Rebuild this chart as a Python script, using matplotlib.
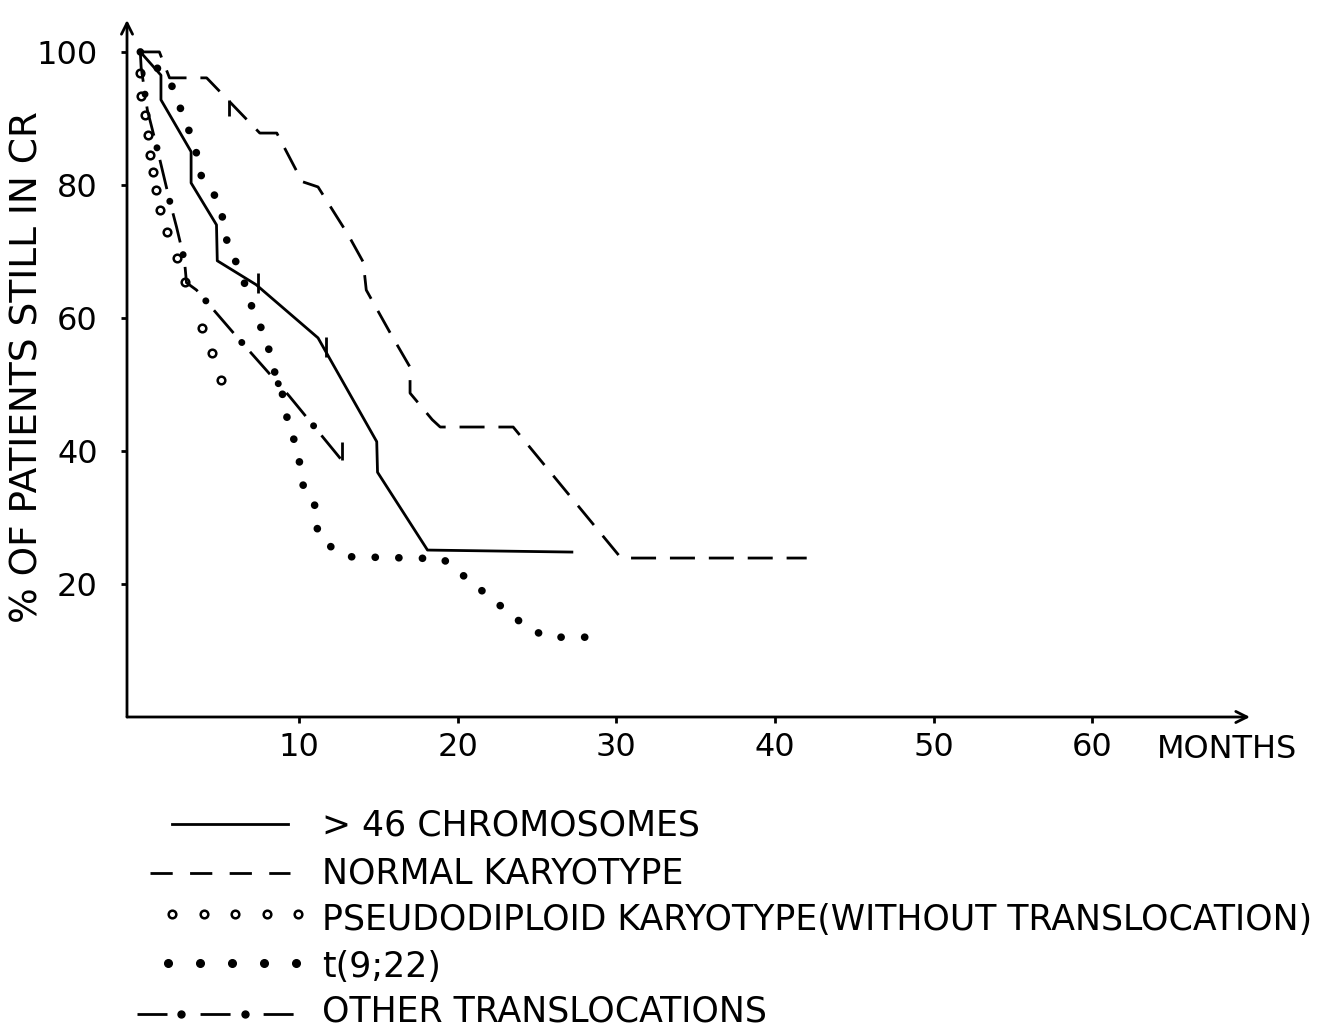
import matplotlib
matplotlib.use('Agg')
import matplotlib.pyplot as plt
from matplotlib.lines import Line2D

plt.rcParams['font.family'] = ['DejaVu Sans']
plt.rcParams['lines.scale_dashes'] = False

# >46 chromosomes (solid)
hyper_x = [0, 1.3, 1.3, 3.2, 3.2, 4.8, 4.85, 7.3, 11.2, 14.9, 14.95, 18.1, 27.2]
hyper_y = [100, 96.5, 92.8, 85, 80.3, 74, 68.6, 65, 57, 41.4, 36.8, 25.1, 24.8]
hyper_cens_x = [7.4, 11.7]
hyper_cens_y = [65.3, 55.7]

# normal karyotype (dashed)
normal_x = [0, 1.2, 1.84, 4.18, 7.53, 8.6, 10.2, 11.2, 13.1, 14.05, 14.24, 15.76,
            17.0, 17.0, 18.4, 18.9, 23.5, 30.3, 42.0]
normal_y = [100, 100, 96.1, 96.1, 87.8, 87.8, 80.5, 79.7, 72.5, 68.4, 64.2, 57.7,
            52.6, 48.7, 44.7, 43.6, 43.6, 23.9, 23.9]
normal_cens_x = [5.6]
normal_cens_y = [91.6]

# pseudodiploid karyotype (open circles)
pseudo_x = [0.0, 0.04, 0.3, 0.49, 0.61, 0.8, 0.99, 1.24, 1.68, 2.31, 2.82, 3.89, 4.52, 5.08]
pseudo_y = [96.8, 93.4, 90.5, 87.5, 84.5, 82.0, 79.2, 76.2, 72.9, 69.0, 65.4, 58.5, 54.7, 50.7]

# t(9;22) (dots)
t922_x = [0, 1.84, 3.48, 3.73, 5.0, 5.57, 6.27, 7.22, 7.97, 8.23, 9.24, 9.24, 9.87,
          10.25, 10.95, 11.2, 12.1, 13.1, 19.05, 24.2, 25.6, 29.1]
t922_y = [100, 95.8, 85.6, 81.8, 77.3, 70.2, 67.5, 60.2, 57.0, 53.5, 46.6, 43.9, 40.8,
          34.9, 32.6, 27.4, 25.4, 24.1, 23.8, 13.8, 12.0, 12.0]

# other translocations (dash-dot)
other_x = [0, 0.05, 0.44, 1.08, 1.84, 2.28, 2.78, 2.91, 3.54, 6.14, 9.37, 12.7]
other_y = [100, 97.7, 91.3, 85.3, 77.7, 73.7, 68.7, 65.3, 64.2, 57.0, 48.3, 38.6]
other_cens_x = [12.7]
other_cens_y = [40.0]

xticks = [10, 20, 30, 40, 50, 60]
yticks = [20, 40, 60, 80, 100]

labels = ['> 46 CHROMOSOMES', 'NORMAL KARYOTYPE',
          'PSEUDODIPLOID KARYOTYPE(WITHOUT TRANSLOCATION)', 't(9;22)',
          'OTHER TRANSLOCATIONS']

W, H = 1323, 1029
fig = plt.figure(figsize=(W / 100, H / 100), dpi=100)
ax = fig.add_axes([127 / W, 1 - 717 / H, 1123 / W, 697 / H])
ax.set_xlim(-0.84, 69.94)
ax.set_ylim(0, 104.8)

lw = 2.0
ax.plot(hyper_x, hyper_y, color='black', lw=lw)
ax.vlines(hyper_cens_x, [v - 1.5 for v in hyper_cens_y], [v + 1.5 for v in hyper_cens_y],
          color='black', lw=lw)

ax.plot(normal_x, normal_y, color='black', lw=lw, linestyle=(0, (18, 10)))
ax.vlines(normal_cens_x, [v - 1.2 for v in normal_cens_y], [v + 1.2 for v in normal_cens_y],
          color='black', lw=lw)

ax.plot(pseudo_x, pseudo_y, linestyle='none', marker='o', ms=5.5, mfc='white',
        mec='black', mew=1.8)

ax.plot(t922_x, t922_y, color='black', lw=5.5, linestyle=(0, (0.1, 16.9)),
        dash_capstyle='round', solid_capstyle='round')

ax.plot(other_x, other_y, color='black', lw=lw, linestyle=(0, (21.6, 18)))
ax.plot(other_x, other_y, color='black', lw=5, linestyle=(9, (0.1, 39.5)),
        dash_capstyle='round')
ax.vlines(other_cens_x, [v - 1.4 for v in other_cens_y], [v + 1.4 for v in other_cens_y],
          color='black', lw=lw)

# axes with arrows
for s in ax.spines.values():
    s.set_visible(False)
ax.annotate('', xy=(1, 0), xytext=(0, 0), xycoords='axes fraction',
            arrowprops=dict(arrowstyle='->,head_length=0.8,head_width=0.4', lw=2, color='black',
                            shrinkA=0, shrinkB=0))
ax.annotate('', xy=(0, 1), xytext=(0, 0), xycoords='axes fraction',
            arrowprops=dict(arrowstyle='->,head_length=0.8,head_width=0.4', lw=2, color='black',
                            shrinkA=0, shrinkB=0))

ax.set_xticks(xticks)
ax.set_yticks(yticks)
ax.set_xticklabels([str(v) for v in xticks])
ax.set_yticklabels([str(v) for v in yticks])
ax.tick_params(axis='both', direction='out', length=4, width=2, labelsize=23, color='black')
ax.tick_params(axis='x', pad=7)
ax.tick_params(axis='y', pad=17)

fig.text(28 / W, 1 - 367 / H, '% OF PATIENTS STILL IN CR', rotation=90,
         ha='center', va='center', fontsize=27)
fig.text(1227 / W, 1 - 749 / H, 'MONTHS', ha='center', va='center', fontsize=23)


# legend drawn by hand
def fx(px):
    return px / W


def fy(py):
    return 1 - py / H


rows = [824, 872, 918, 965, 1010]
for lab, r in zip(labels, rows):
    fig.text(fx(322), fy(r + 12), lab, ha='left', va='baseline', fontsize=25)

fig.add_artist(Line2D([fx(172), fx(288)], [fy(824), fy(824)], color='black', lw=lw))
fig.add_artist(Line2D([fx(150), fx(290)], [fy(873), fy(873)], color='black', lw=lw,
                      linestyle=(0, (16, 12.5))))
fig.add_artist(Line2D([fx(172 + i * 31.5) for i in range(5)], [fy(914)] * 5,
                      linestyle='none', marker='o', ms=5.5, mfc='white', mec='black', mew=1.8))
fig.add_artist(Line2D([fx(168 + i * 32) for i in range(5)], [fy(963)] * 5,
                      linestyle='none', marker='o', ms=5.5, mfc='black', mec='black'))
fig.add_artist(Line2D([fx(137), fx(295)], [fy(1014), fy(1014)], color='black', lw=lw,
                      linestyle=(0, (21.6, 23.8))))
fig.add_artist(Line2D([fx(181), fx(245)], [fy(1014), fy(1014)], linestyle='none',
                      marker='o', ms=5, mfc='black', mec='black'))

fig.savefig('out.png', dpi=100)
